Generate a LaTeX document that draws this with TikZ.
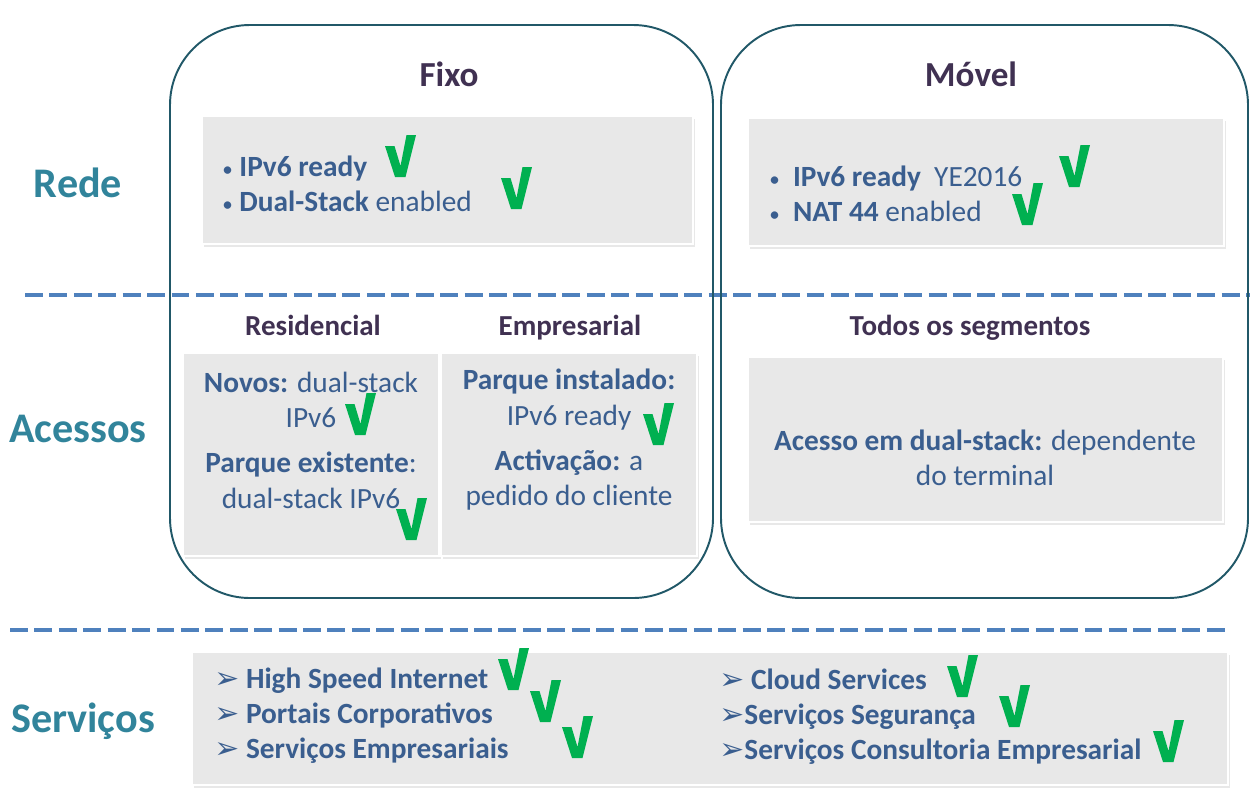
\documentclass[tikz,border=0pt]{standalone}
\usepackage{fontspec}
\setmainfont{Carlito}
\newfontfamily\symfont{DejaVu Sans}
\usetikzlibrary{shadows,fit}

\definecolor{titlecol}{HTML}{403152}
\definecolor{bodycol}{HTML}{3A5E8F}
\definecolor{sidecol}{HTML}{31849B}
\definecolor{dashcol}{HTML}{4F81BD}
\definecolor{framecol}{HTML}{215868}
\definecolor{chkcol}{HTML}{00B050}
\definecolor{boxfill}{HTML}{E8E8E8}
\newcommand{\arrowmark}{{\symfont\fontsize{17}{16}\selectfont ➢}}
\newcommand{\smallbullet}{{\fontsize{12}{16}\selectfont\textbullet}}

\begin{document}
\begin{tikzpicture}[x=0.02cm, y=-0.02cm,
  panel/.style = {draw=framecol, line width=1.1pt, rounded corners=1.6cm, inner sep=0pt},
  greybox/.style = {fill=boxfill, draw=white, line width=1.3pt, inner sep=0pt,
    drop shadow={opacity=0.18, shadow xshift=1pt, shadow yshift=-1.5pt}},
  side/.style = {text=sidecol, font=\fontsize{24}{28}\selectfont\bfseries},
  head/.style = {text=titlecol, font=\fontsize{20}{24}\selectfont\bfseries},
  sub/.style = {text=titlecol, font=\fontsize{16.5}{20}\selectfont\bfseries},
  body/.style = {text=bodycol, font=\fontsize{16.7}{20}\selectfont, align=center, inner sep=0pt},
  sep/.style = {draw=dashcol, line width=2.8pt, dash pattern=on 10.2pt off 3.7pt},
  chk/.pic = {\fill[chkcol] (0,11) -- (9.5,11) -- (15.5,31) -- (21.5,0) -- (31,0) -- (20.5,42) -- (10,42) -- cycle;}]
\useasboundingbox (0,0) rectangle (1250,789);

\draw[sep] (25,295) -- (1250,295);
\draw[sep] (10,630) -- (1225,630);

\node[greybox, fit={(202,116) (693,244)}] (fixrede) {};
\node[greybox, fit={(748,118) (1224,246)}] (movrede) {};
\node[greybox, fit={(183,353) (439,556)}] (resbox) {};
\node[greybox, fit={(441,353) (697,556)}] (empbox) {};
\node[greybox, fit={(748,357) (1223,522)}] (todosbox) {};
\node[greybox, fit={(192,652) (1228,785)}] (servbox) {};

\node[panel, fit={(170,25) (713,598)}] (fixo) {};
\node[panel, fit={(721,25) (1248,598)}] (movel) {};

\node[side, anchor=base] (rede) at (78,197) {Rede};
\node[side, anchor=base] (acessos) at (78,442) {Acessos};
\node[side, anchor=base] (servicos) at (83,732) {Serviços};

\node[head, anchor=base] (tfixo) at (449,86) {Fixo};
\node[head, anchor=base] (tmovel) at (971,86) {Móvel};
\node[sub, anchor=base] (res) at (313,335) {Residencial};
\node[sub, anchor=base] (emp) at (570,335) {Empresarial};
\node[sub, anchor=base] (todos) at (970,335) {Todos os segmentos};

\node[body, align=left, anchor=west] (fixlist) at (222,184)
  {\smallbullet\ \textbf{IPv6 ready}\\\smallbullet\ \textbf{Dual-Stack} enabled};
\node[body, align=left, anchor=west] (movlist) at (769,194)
  {\smallbullet\ \ \textbf{IPv6 ready}\ \ YE2016\\\smallbullet\ \ \textbf{NAT 44} enabled};
\node[body] (restext) at (311,440)
  {\textbf{Novos:} dual-stack\\IPv6\\[6pt]\textbf{Parque existente}:\\dual-stack IPv6};
\node[body] (emptext) at (569,440)
  {\textbf{Parque instalado:}\\IPv6 ready\\[6pt]\textbf{Activação:} a\\pedido do cliente};
\node[body] (todostext) at (985,458)
  {\textbf{Acesso em dual-stack:} dependente\\do terminal};
\node[body, align=left, anchor=west, font=\fontsize{16.7}{20}\selectfont\bfseries] (servleft) at (214,716)
  {\arrowmark\ High Speed Internet\\\arrowmark\ Portais Corporativos\\\arrowmark\ Serviços Empresariais};
\node[body, align=left, anchor=west, font=\fontsize{16.7}{20}\selectfont\bfseries] (servright) at (719,717)
  {\arrowmark\ Cloud Services\\\arrowmark Serviços Segurança\\\arrowmark Serviços Consultoria Empresarial};

\pic at (385,135) {chk};
\pic at (501,167) {chk};
\pic at (1059,145) {chk};
\pic at (1012,183) {chk};
\pic at (345,393) {chk};
\pic at (396,498) {chk};
\pic at (643,403) {chk};
\pic at (498,648) {chk};
\pic at (530,680) {chk};
\pic at (562,716) {chk};
\pic at (947,655) {chk};
\pic at (999,685) {chk};
\pic at (1153,720) {chk};
\end{tikzpicture}
\end{document}
